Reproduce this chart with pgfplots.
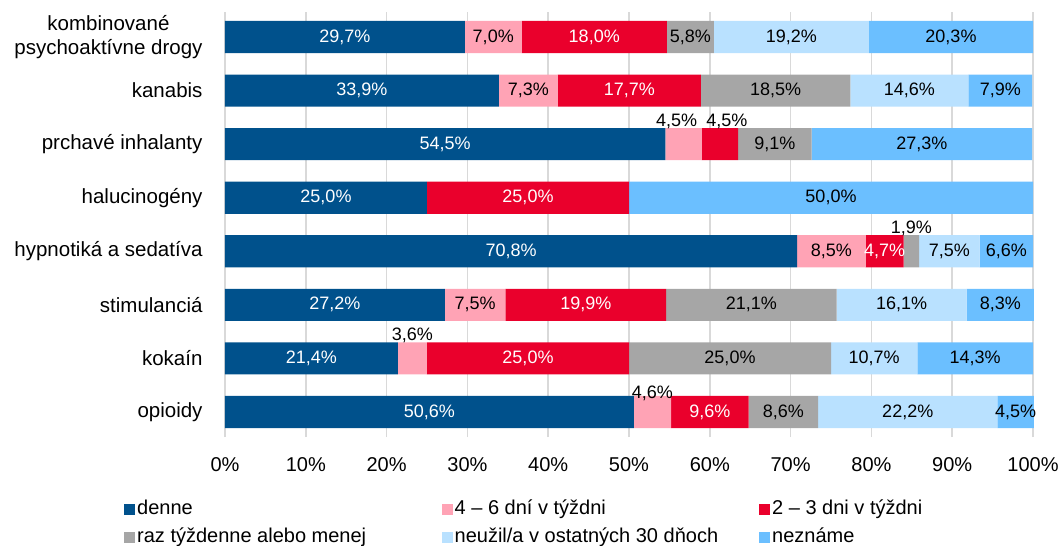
\documentclass[border=0pt]{standalone}
\usepackage{fontspec}
\setmainfont{Liberation Sans}
\usepackage{pgfplots}
\usepackage{pgfplotstable}
\pgfplotsset{compat=1.18}
\definecolor{cDenne}{HTML}{00518C}
\definecolor{cPink}{HTML}{FFA3B5}
\definecolor{cRed}{HTML}{EA002C}
\definecolor{cGrey}{HTML}{A6A6A6}
\definecolor{cLight}{HTML}{B9E1FF}
\definecolor{cBlue}{HTML}{6BBFFF}
\definecolor{cGrid}{HTML}{D9D9D9}

\pgfplotstableread{
idx denne pd td raz neu nez
7 29.7 7.0 18.0 5.8 19.2 20.3
6 33.9 7.3 17.7 18.5 14.6 7.9
5 54.5 4.5 4.5 9.1 0 27.3
4 25.0 0 25.0 0 0 50.0
3 70.8 8.5 4.7 1.9 7.5 6.6
2 27.2 7.5 19.9 21.1 16.1 8.3
1 21.4 3.6 25.0 25.0 10.7 14.3
0 50.6 4.6 9.6 8.6 22.2 4.5
}\data

\tikzset{
  hidezero/.code={\pgfmathtruncatemacro\iszero{\rawx<0.05}\ifnum\iszero=1 \pgfkeysalso{text opacity=0}\fi},
  smallshift/.code={\pgfmathtruncatemacro\issmall{\rawx<4.65}\ifnum\issmall=1 \pgfkeysalso{yshift=23bp,text=black}\fi},
  pinkadj/.code={\pgfmathtruncatemacro\ri{\ridx}\ifnum\ri=5 \pgfkeysalso{xshift=-7bp}\fi\ifnum\ri=0 \pgfkeysalso{yshift=-4bp}\fi},
  redadj/.code={\pgfmathtruncatemacro\ri{\ridx}\ifnum\ri=5 \pgfkeysalso{xshift=7bp}\fi},
}
\pgfplotsset{
  lab/.style={point meta=\thisrow{#1}, visualization depends on={\thisrow{#1} \as \rawx}, visualization depends on={\thisrow{idx} \as \ridx}},
}

\begin{document}
\begin{tikzpicture}
\useasboundingbox (-225bp,-109bp) rectangle (835bp,437bp);
\begin{axis}[
  scale only axis, width=808bp, height=425bp,
  xbar stacked, bar width=0.6,
  xmin=0, xmax=100, ymin=-0.467, ymax=7.467,
  xtick={0,10,20,30,40,50,60,70,80,90,100},
  xticklabel={\pgfmathprintnumber{\tick}\%},
  /pgf/number format/assume math mode=true,
  ytick={0,1,2,3,4,5,6,7},
  yticklabels={opioidy,kokaín,stimulanciá,{hypnotiká a sedatíva},halucinogény,{prchavé inhalanty},kanabis,{kombinované\\psychoaktívne drogy}},
  yticklabel style={align=center, font=\fontsize{20.5bp}{24bp}\selectfont, xshift=-19bp},
  xticklabel style={font=\fontsize{20bp}{24bp}\selectfont, yshift=-17bp},
  major tick length=0pt,
  axis line style={draw=none},
  clip=false,
  xmajorgrids, grid style={draw=cGrid, line width=1.6bp},
  nodes near coords={\pgfmathprintnumber[fixed,fixed zerofill,precision=1,use comma]{\pgfplotspointmeta}\%},
  every node near coord/.style={anchor=center, font=\fontsize{18bp}{21bp}\selectfont, text=black, hidezero},
  legend columns=3,
  legend image code/.code={\fill[#1] (0bp,-5.5bp) rectangle (11bp,5.5bp);},
  legend style={draw=none, at={(-0.125,-0.142)}, anchor=north west, font=\fontsize{20bp}{24bp}\selectfont, inner sep=0pt, row sep=5bp, nodes={inner sep=2bp, text height=15bp, text depth=4bp}},
]
\addplot[fill=cDenne, draw=none, lab=denne, every node near coord/.append style={text=white}] table[x=denne, y=idx] {\data};
\addlegendentry{\makebox[302.5bp][l]{denne}}
\addplot[fill=cPink, draw=none, lab=pd, every node near coord/.append style={smallshift, pinkadj}] table[x=pd, y=idx] {\data};
\addlegendentry{\makebox[302.5bp][l]{4 – 6 dní v týždni}}
\addplot[fill=cRed, draw=none, lab=td, every node near coord/.append style={text=white, smallshift, redadj}] table[x=td, y=idx] {\data};
\addlegendentry{\makebox[302.5bp][l]{2 – 3 dni v týždni}}
\addplot[fill=cGrey, draw=none, lab=raz, every node near coord/.append style={smallshift}] table[x=raz, y=idx] {\data};
\addlegendentry{\makebox[302.5bp][l]{raz týždenne alebo menej}}
\addplot[fill=cLight, draw=none, lab=neu] table[x=neu, y=idx] {\data};
\addlegendentry{\makebox[302.5bp][l]{neužil/a v ostatných 30 dňoch}}
\addplot[fill=cBlue, draw=none, lab=nez] table[x=nez, y=idx] {\data};
\addlegendentry{\makebox[302.5bp][l]{neznáme}}
\end{axis}
\end{tikzpicture}
\end{document}
